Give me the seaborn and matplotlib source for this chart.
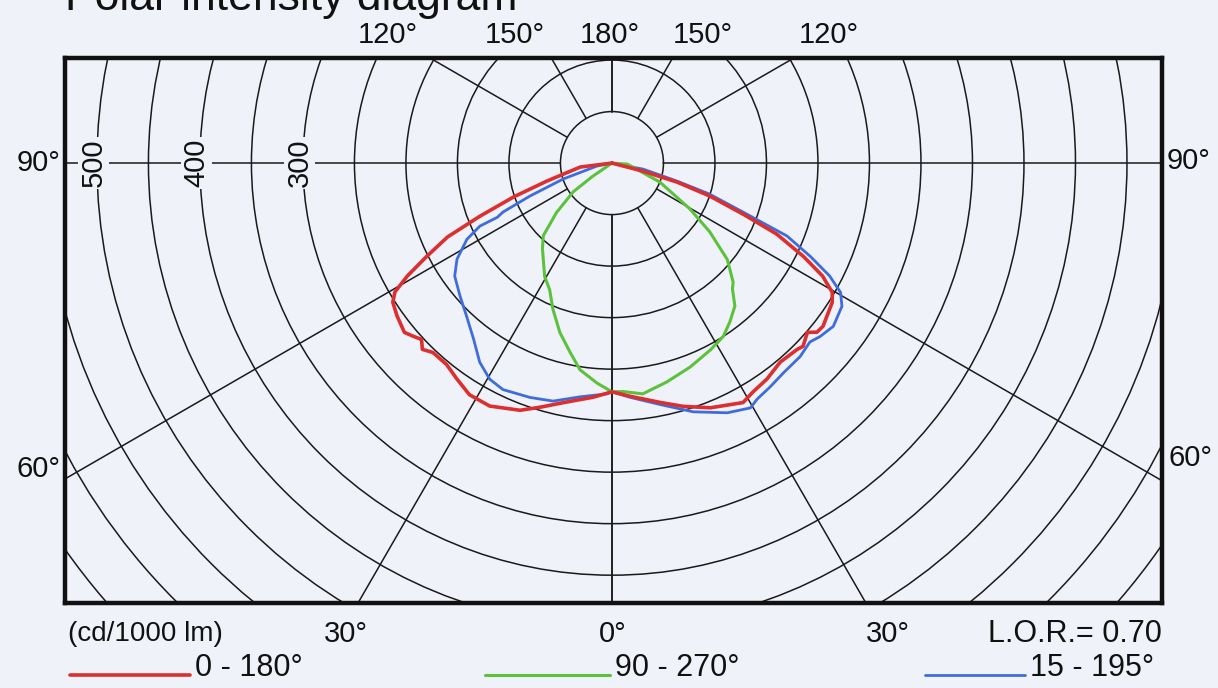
import numpy as np
import pandas as pd
import matplotlib
matplotlib.use("Agg")
import matplotlib.pyplot as plt
import matplotlib.transforms as mtransforms
from matplotlib.patches import Circle
from matplotlib.lines import Line2D
import seaborn as sns

# ── Data: angle from nadir (deg) and intensity (cd/1000 lm), per half plane ──
red_left_ang = [0, 4.6, 10.7, 16.4, 20.4, 26.7, 31.6, 35.7, 39.4, 43.4, 45.5, 47.2,
                49, 50.8, 54.6, 57.6, 59.3, 61.1, 63.3, 65.8, 68.1, 71, 74.5, 82.9, 90]
red_left_int = [222, 228, 236, 247, 256, 264, 264, 258, 253, 253, 258, 252,
                256, 260, 256, 252, 245, 227, 201, 175, 138, 101, 66, 31, 0]
red_right_ang = [0, 4.4, 11.4, 16.3, 21.9, 28.7, 31.6, 35.7, 40.2, 44.8, 46.2, 49.1,
                 50.5, 52.3, 57.7, 59.6, 61.8, 64, 66.7, 68.7, 71.4, 73.7, 75.5, 90]
red_right_int = [222, 227, 237, 246, 256, 265, 261, 258, 253, 255, 257, 251,
                 258, 259, 253, 248, 232, 207, 174, 137, 100, 66, 31, 0]

blue_left_ang = [0, 1.2, 7.8, 13.9, 19.3, 25.7, 29.5, 33.6, 38.3, 43.5, 48.8, 54.3,
                 58.2, 62.3, 64.5, 64.7, 65.8, 68.1, 71.9, 78.7, 90]
blue_left_int = [222, 224, 229, 238, 241, 244, 241, 232, 217, 205, 196, 188,
                 177, 159, 142, 123, 116, 86, 50, 15, 0]
blue_right_ang = [0, 4.4, 11.3, 18.1, 24.8, 29.5, 31.6, 35.3, 39.3, 44.2, 47.9, 50.2,
                  53.6, 58.1, 60.5, 62.6, 64.8, 67.4, 69.5, 72.4, 74.5, 79, 90]
blue_right_int = [222, 228, 239, 254, 267, 273, 269, 266, 263, 262, 259, 263,
                  267, 263, 255, 238, 213, 184, 136, 99, 66, 31, 0]

green_left_ang = [0, 3.9, 8.8, 12.5, 17.1, 22, 26.2, 30.7, 39.1, 43.4, 48.3, 53.4, 55.6, 90]
green_left_int = [222, 214, 203, 188, 172, 153, 137, 128, 107, 97, 72, 47, 23, 0]
green_right_ang = [0, 2.8, 7.6, 14.1, 21, 27.8, 32.7, 36.6, 40.7, 43.8, 45.5, 50.1,
                   54.9, 59.5, 68.4, 86, 90]
green_right_int = [222, 222, 226, 219, 212, 205, 200, 192, 183, 169, 165, 146,
                   116, 88, 50, 15, 0]

planes = ["15 - 195°", "90 - 270°", "0 - 180°"]
circle_radii = [50, 100, 150, 200, 250, 300, 350, 400, 450, 500, 550, 600, 650, 700]
spoke_angles = [0, 30, 60, 90, 120, 150, 180]
scale_labels = [300, 400, 500]
lor_text = "L.O.R.= 0.70"

# ── Style ──
BG = "#eff2f9"
GRID = "#1a1a1a"
INK = "#111111"
COLORS = {"0 - 180°": "#dc2f2f", "90 - 270°": "#5cc23c", "15 - 195°": "#3f6cdc"}
WIDTHS = {"0 - 180°": 2.6, "90 - 270°": 2.2, "15 - 195°": 2.0}

sns.set_theme(style="white")
plt.rcParams["font.family"] = ["Liberation Sans", "DejaVu Sans"]
FS = 21


def half_to_xy(ang, inten, side):
    a = np.radians(np.asarray(ang, float))
    i = np.asarray(inten, float)
    return side * i * np.sin(a), -i * np.cos(a)


def curve_frame(name, l_ang, l_int, r_ang, r_int):
    # left half runs from 90° down to nadir, then right half back up to 90°
    xl, yl = half_to_xy(l_ang, l_int, -1)
    xr, yr = half_to_xy(r_ang, r_int, 1)
    x = np.concatenate([xl[::-1], xr])
    y = np.concatenate([yl[::-1], yr])
    return pd.DataFrame({"x": x, "y": y, "plane": name})


df = pd.concat([
    curve_frame("0 - 180°", red_left_ang, red_left_int, red_right_ang, red_right_int),
    curve_frame("90 - 270°", green_left_ang, green_left_int, green_right_ang, green_right_int),
    curve_frame("15 - 195°", blue_left_ang, blue_left_int, blue_right_ang, blue_right_int),
], ignore_index=True)

fig = plt.figure(figsize=(12.18, 6.88), dpi=100, facecolor=BG)
ax = fig.add_axes([65 / 1218, 1 - 603 / 688, 1097 / 1218, 545 / 688])
ax.set_facecolor(BG)
ax.set_xlim(-531, 534)
ax.set_ylim(-427, 102)

# polar grid
for r in circle_radii:
    ax.add_patch(Circle((0, 0), r, fill=False, ec=GRID, lw=1.1, zorder=1))
for a in spoke_angles:
    for side in (-1, 1):
        t = np.radians(a)
        ax.plot([side * 50 * np.sin(t), side * 900 * np.sin(t)],
                [-50 * np.cos(t), -900 * np.cos(t)],
                color=GRID, lw=1.1, zorder=1)

# curves
for name in planes:
    sns.lineplot(data=df[df["plane"] == name], x="x", y="y", sort=False,
                 estimator=None, color=COLORS[name], linewidth=WIDTHS[name],
                 legend=False, ax=ax, zorder=3)

ax.set_xlabel("")
ax.set_ylabel("")
ax.set_xticks([])
ax.set_yticks([])
for s in ax.spines.values():
    s.set_visible(True)
    s.set_color(INK)
    s.set_linewidth(3.2)

# scale labels on the 90° line
for v in scale_labels:
    ax.text(-v - 3, 0, str(v), rotation=90, ha="center", va="center", fontsize=FS,
            color=INK, zorder=4,
            bbox=dict(facecolor=BG, edgecolor="none", pad=1.0))

# angle labels, top
ytop = ax.get_ylim()[1]
top = mtransforms.blended_transform_factory(ax.transData, ax.transAxes)
for a, gap_l, gap_r in ((120, 12, 5), (150, 6, 0)):
    hit = ytop * np.tan(np.radians(180 - a))
    ax.text(-hit - gap_l, 1.042, f"{a}°", transform=top, ha="right", va="center",
            fontsize=FS, color=INK)
    ax.text(hit + gap_r, 1.042, f"{a}°", transform=top, ha="left", va="center",
            fontsize=FS, color=INK)
ax.text(-2, 1.042, "180°", transform=top, ha="center", va="center",
        fontsize=FS, color=INK)

# angle labels, sides
side_t = mtransforms.blended_transform_factory(ax.transAxes, ax.transData)
xl, xr = ax.get_xlim()
ax.text(-0.004, 0, "90°", transform=side_t, ha="right", va="center", fontsize=FS, color=INK)
ax.text(1.004, 2, "90°", transform=side_t, ha="left", va="center", fontsize=FS, color=INK)
ax.text(-0.004, xl / np.tan(np.radians(60)) + 10, "60°", transform=side_t,
        ha="right", va="center", fontsize=FS, color=INK)
ax.text(1.006, -xr / np.tan(np.radians(60)) + 22, "60°", transform=side_t,
        ha="left", va="center", fontsize=FS, color=INK)

# angle labels, bottom
ybot = ax.get_ylim()[0]
hit30 = -ybot * np.tan(np.radians(30))
ax.text(-hit30 - 12, -0.056, "30°", transform=top, ha="center", va="center", fontsize=FS, color=INK)
ax.text(hit30 + 21, -0.056, "30°", transform=top, ha="center", va="center", fontsize=FS, color=INK)
ax.text(1, -0.056, "0°", transform=top, ha="center", va="center", fontsize=FS, color=INK)
ax.text(0.003, -0.056, "(cd/1000 lm)", transform=ax.transAxes, ha="left", va="center",
        fontsize=FS - 1, color=INK)
ax.text(1.0, -0.056, lor_text, transform=ax.transAxes, ha="right", va="center",
        fontsize=FS + 1, color=INK)

# legend row
legend_pos = {"0 - 180°": (70, 190), "90 - 270°": (485, 610), "15 - 195°": (925, 1025)}
for name in ["0 - 180°", "90 - 270°", "15 - 195°"]:
    x0, x1 = legend_pos[name]
    fig.add_artist(Line2D([x0 / 1218, x1 / 1218], [0.019, 0.019],
                          color=COLORS[name], lw=WIDTHS[name]))
    fig.text((x1 + 5) / 1218, 0.029, name, ha="left", va="center", fontsize=FS + 1, color=INK)

# title, mostly above the page edge as in the scan
fig.text(65 / 1218, 1 - 10 / 688, "Polar intensity diagram", ha="left", va="baseline",
         fontsize=32, color=INK)

fig.savefig("out.png", dpi=100, facecolor=BG)
